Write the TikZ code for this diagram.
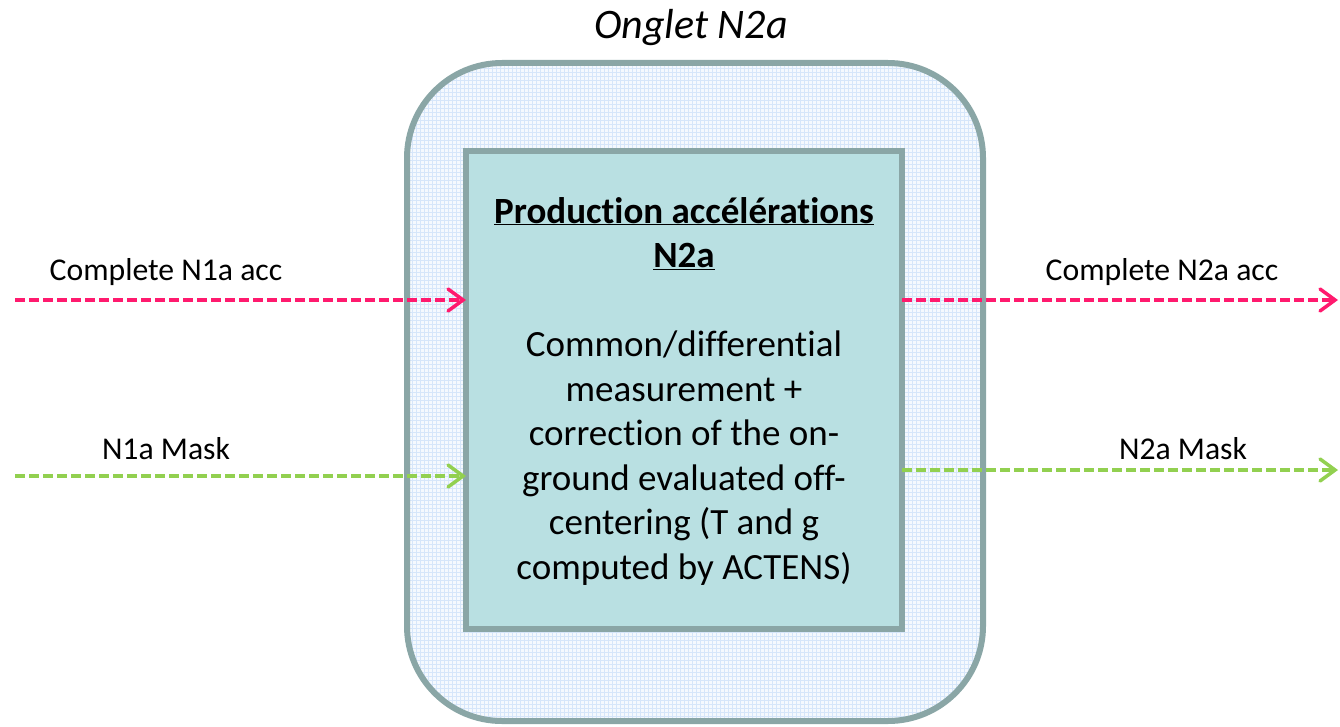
\documentclass[tikz,border=0pt]{standalone}
\usepackage{fontspec}
\setmainfont{Carlito}[Ligatures=NoCommon]
\usetikzlibrary{arrows.meta}
\definecolor{bordergray}{HTML}{8AA6A6}
\definecolor{innerfill}{HTML}{B9E0E2}
\definecolor{outerfill}{HTML}{F5F9FE}
\definecolor{gridblue}{HTML}{D6E6FA}
\definecolor{pinkline}{HTML}{FF1A6E}
\definecolor{greenline}{HTML}{92D050}
\newcommand{\tiSep}{t\kern0pt i}
\tikzset{
  flow/.style={line width=3.5pt, dash pattern=on 10pt off 4pt,
    -{Straight Barb[length=15pt,width=22pt,line cap=round]}},
  lbl/.style={font=\fontsize{31.7}{38}\selectfont, inner sep=0pt},
}
\begin{document}
\begin{tikzpicture}[x=1pt,y=-1pt]
\useasboundingbox (0,0) rectangle (1340,727);
% outer rounded panel
\begin{scope}
  \clip[rounded corners=95pt] (407,63) rectangle (983,721);
  \fill[outerfill] (400,55) rectangle (990,727);
  \draw[gridblue, line width=0.5pt, step=4pt] (400,55) grid (990,727);
\end{scope}
\draw[bordergray, line width=6pt, rounded corners=95pt] (407,63) rectangle (983,721);
% title
\node[font=\fontsize{42}{50}\selectfont\itshape, inner sep=0pt] (title) at (691,28) {Onglet N2a};
% inner box
\node[draw=bordergray, fill=innerfill, line width=6pt, minimum width=436pt, minimum height=478pt,
      inner sep=0pt, outer sep=0pt] (box) at (684,390) {};
\node[align=center, font=\fontsize{37}{44.5}\selectfont, inner sep=0pt] (txt) at (684,391)
 {\underline{\textbf{Produc\tiSep on accéléra\tiSep ons}}\\
  \underline{\textbf{N2a}}\\[44.5pt]
  Common/differen\tiSep al\\
  measurement +\\
  correc\tiSep on of the on-\\
  ground evaluated off-\\
  centering (T and g\\
  computed by ACTENS)};
% coordinates
\coordinate (inA) at (15,300);
\coordinate (inB) at (15,476);
\coordinate (outA) at (1338,300);
\coordinate (outB) at (1338,470);
% connectors
\draw[flow, pinkline] (inA) -- (inA -| box.west);
\draw[flow, greenline] (inB) -- (inB -| box.west);
\draw[flow, pinkline] (outA -| box.east) -- (outA);
\draw[flow, greenline] (outB -| box.east) -- (outB);
% labels
\node[lbl] (l1) at (166,272) {Complete N1a acc};
\node[lbl] (l2) at (1162,272) {Complete N2a acc};
\node[lbl] (l3) at (166,449) {N1a Mask};
\node[lbl] (l4) at (1183,449) {N2a Mask};
\end{tikzpicture}
\end{document}
